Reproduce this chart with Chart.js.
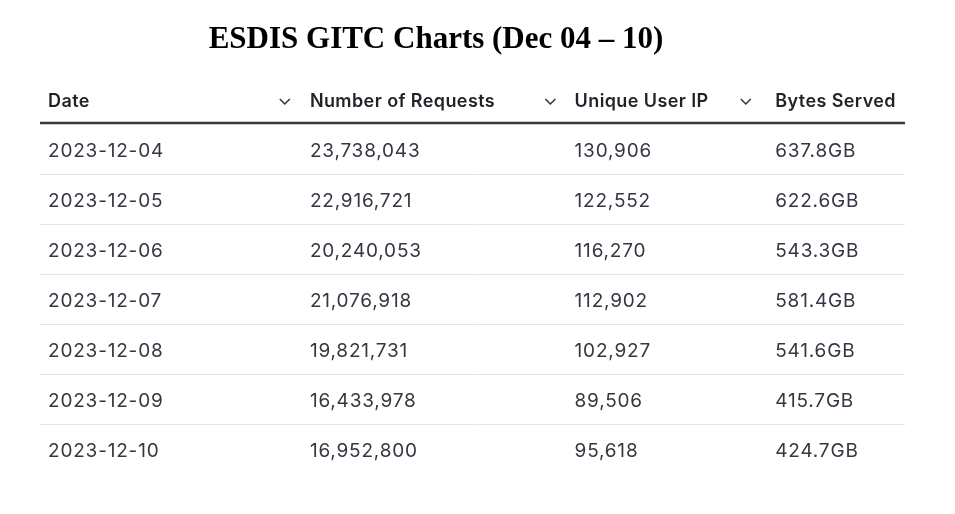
<!DOCTYPE html>
<html><head><meta charset="utf-8">
<script src="https://cdn.jsdelivr.net/npm/chart.js@4"></script>
<style>html,body{margin:0;background:#fff}#c{display:block}</style>
</head><body>
<div style="width:955px;height:514px"><canvas id="c"></canvas></div>
<script>
const title = 'ESDIS GITC Charts (Dec 04 – 10)';
const columns = ['Date', 'Number of Requests', 'Unique User IP', 'Bytes Served'];
const dates = ['2023-12-04','2023-12-05','2023-12-06','2023-12-07','2023-12-08','2023-12-09','2023-12-10'];
const requests = ['23,738,043','22,916,721','20,240,053','21,076,918','19,821,731','16,433,978','16,952,800'];
const uniqueIPs = ['130,906','122,552','116,270','112,902','102,927','89,506','95,618'];
const bytesServed = ['637.8GB','622.6GB','543.3GB','581.4GB','541.6GB','415.7GB','424.7GB'];

const colFrac = [0.0093, 0.312, 0.618, 0.85];
const chevFrac = [0.283, 0.59, 0.816, null];

const tablePlugin = {
  id: 'tablePlugin',
  afterDraw(chart) {
    const ctx = chart.ctx, ca = chart.chartArea, y = chart.scales.y;
    const W = ca.right - ca.left;
    ctx.save();
    ctx.fillStyle = '#000';
    ctx.font = 'bold 31px "Liberation Serif"';
    ctx.textAlign = 'center'; ctx.textBaseline = 'middle';
    ctx.fillText(title, 436, 40);
    const band = y.getPixelForValue(1) - y.getPixelForValue(0);
    const hy = y.getPixelForValue(0) - band * 0.96;
    ctx.textAlign = 'left';
    ctx.font = '600 18px Inter';
    ctx.letterSpacing = '0.4px';
    ctx.fillStyle = '#1f2328';
    columns.forEach((c, i) => {
      ctx.fillText(c, ca.left + colFrac[i] * W, hy);
      if (chevFrac[i] != null) {
        const cx = ca.left + chevFrac[i] * W;
        ctx.beginPath(); ctx.strokeStyle = '#333'; ctx.lineWidth = 1.5;
        ctx.moveTo(cx - 5, hy - 3); ctx.lineTo(cx, hy + 2); ctx.lineTo(cx + 5, hy - 3); ctx.stroke();
      }
    });
    ctx.beginPath(); ctx.strokeStyle = '#343741'; ctx.lineWidth = 2.5;
    ctx.moveTo(ca.left, ca.top - 2); ctx.lineTo(ca.right, ca.top - 2); ctx.stroke();
    ctx.font = '19px Inter';
    ctx.letterSpacing = '0.8px';
    ctx.fillStyle = '#343741';
    dates.forEach((d, r) => {
      const py = y.getPixelForValue(r);
      const vals = [d, requests[r], uniqueIPs[r], bytesServed[r]];
      vals.forEach((v, i) => ctx.fillText(v, ca.left + colFrac[i] * W, py + 1));
      if (r < dates.length - 1) {
        ctx.beginPath(); ctx.strokeStyle = '#e3e5ea'; ctx.lineWidth = 1;
        ctx.moveTo(ca.left, py + band / 2 - 0.5); ctx.lineTo(ca.right, py + band / 2 - 0.5); ctx.stroke();
      }
    });
    ctx.restore();
  }
};

new Chart(document.getElementById('c'), {
  type: 'bar',
  data: { labels: dates, datasets: [{ data: dates.map(() => null) }] },
  options: {
    responsive: true, maintainAspectRatio: false, animation: false,
    indexAxis: 'y',
    layout: { padding: { top: 125, bottom: 39, left: 40, right: 50 } },
    plugins: { legend: { display: false }, tooltip: { enabled: false } },
    scales: {
      y: { type: 'category', display: false, offset: true },
      x: { display: false, min: 0, max: 1 }
    }
  },
  plugins: [tablePlugin]
});
</script>
</body></html>
